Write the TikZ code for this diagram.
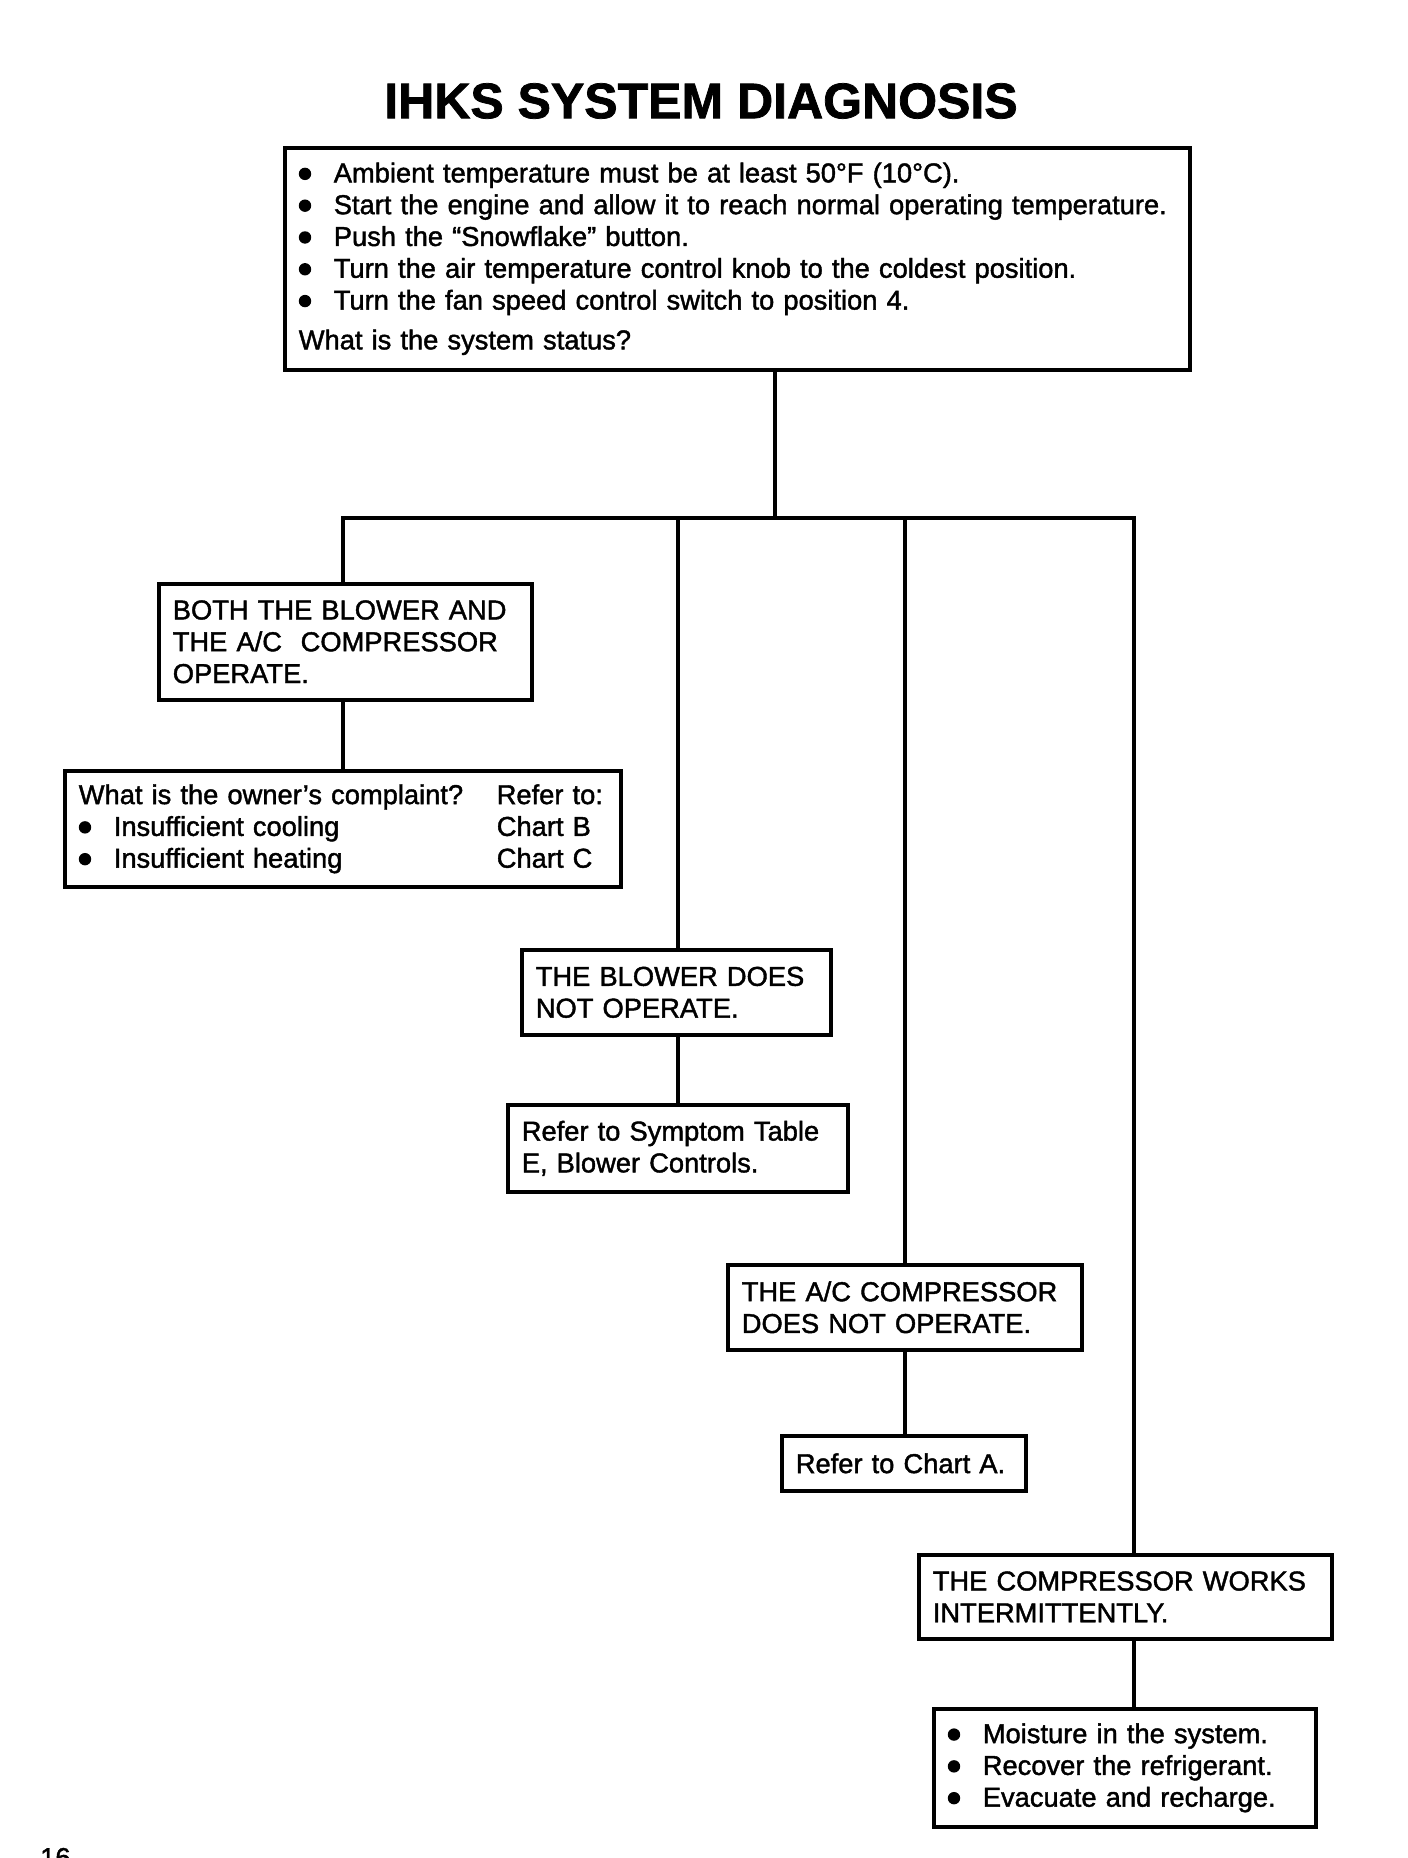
\documentclass[tikz,border=0pt]{standalone}
\usepackage{fontspec}
\setmainfont{Liberation Sans}[FakeBold=1.5]
\newcommand\bodyfont{\fontsize{27.3}{31.8}\selectfont}
\newcommand\bul{\makebox[35pt][l]{\tikz[baseline=0pt]\fill (6pt,8.5pt) circle (6.2pt);}}
\tikzset{
  box/.style={draw, line width=3.6pt, rectangle, anchor=north west,
    inner xsep=14pt, inner ysep=0pt, align=left, font=\bodyfont},
  conn/.style={line width=3.6pt},
}
\begin{document}
\begin{tikzpicture}[x=1pt,y=-1pt]
\useasboundingbox (0,0) rectangle (1408,1858);
\node[font=\fontsize{50}{50}\selectfont\bfseries, inner sep=0pt] (title) at (701,101) {IHKS SYSTEM DIAGNOSIS};

\node[box, text width=877pt, minimum height=222pt] (top) at (283,146) {%
\mbox{\bul Ambient temperature must be at least 50°F (10°C).}\\
\mbox{\bul Start the engine and allow it to reach normal operating temperature.}\\
\mbox{\bul Push the “Snowflake” button.}\\
\mbox{\bul Turn the air temperature control knob to the coldest position.}\\
\mbox{\bul Turn the fan speed control switch to position 4.}\\[8pt]
What is the system status?};

\node[box, text width=345pt, minimum height=116pt] (box1) at (157,582) {BOTH THE BLOWER AND\\ THE A/C\hspace{0.35em} COMPRESSOR\\ OPERATE.};
\node[box, text width=528pt, minimum height=116pt] (box1b) at (63,769) {%
\makebox[418pt][l]{What is the owner’s complaint?}Refer to:\\
\makebox[418pt][l]{\bul Insufficient cooling}Chart B\\
\makebox[418pt][l]{\bul Insufficient heating}Chart C};

\node[box, text width=281pt, minimum height=85pt] (box2) at (520,948) {THE BLOWER DOES\\ NOT OPERATE.};
\node[box, text width=312pt, minimum height=87pt] (box2b) at (506,1103) {Refer to Symptom Table\\ E, Blower Controls.};

\node[box, text width=326pt, minimum height=85pt] (box3) at (726,1263) {THE A/C COMPRESSOR\\ DOES NOT OPERATE.};
\node[box, text width=216pt, minimum height=55pt] (box3b) at (780,1434) {Refer to Chart A.};

\node[box, text width=385pt, minimum height=84pt] (box4) at (917,1553) {THE COMPRESSOR WORKS\\ INTERMITTENTLY.};
\node[box, text width=354pt, minimum height=118pt] (box4b) at (932,1707) {%
\bul Moisture in the system.\\
\bul Recover the refrigerant.\\
\bul Evacuate and recharge.};

\coordinate (bus) at (775,518);
\coordinate (b1) at (343,518);
\coordinate (b2) at (678,518);
\coordinate (b3) at (905,518);
\coordinate (b4) at (1134,518);

\draw[conn] (top.south -| bus) -- (bus);
\draw[conn] (box1.north -| b1) -- (b1) -- (b4) -- (box4.north -| b4);
\draw[conn] (b2) -- (box2.north -| b2);
\draw[conn] (b3) -- (box3.north -| b3);
\draw[conn] (box1.south -| b1) -- (box1b.north -| b1);
\draw[conn] (box2.south -| b2) -- (box2b.north -| b2);
\draw[conn] (box3.south -| b3) -- (box3b.north -| b3);
\draw[conn] (box4.south -| b4) -- (box4b.north -| b4);

\begin{scope}
\clip (0,0) rectangle (1408,1858);
\node[font=\bodyfont, anchor=base west, inner sep=0pt] (page) at (40,1867) {16};
\end{scope}
\end{tikzpicture}
\end{document}
